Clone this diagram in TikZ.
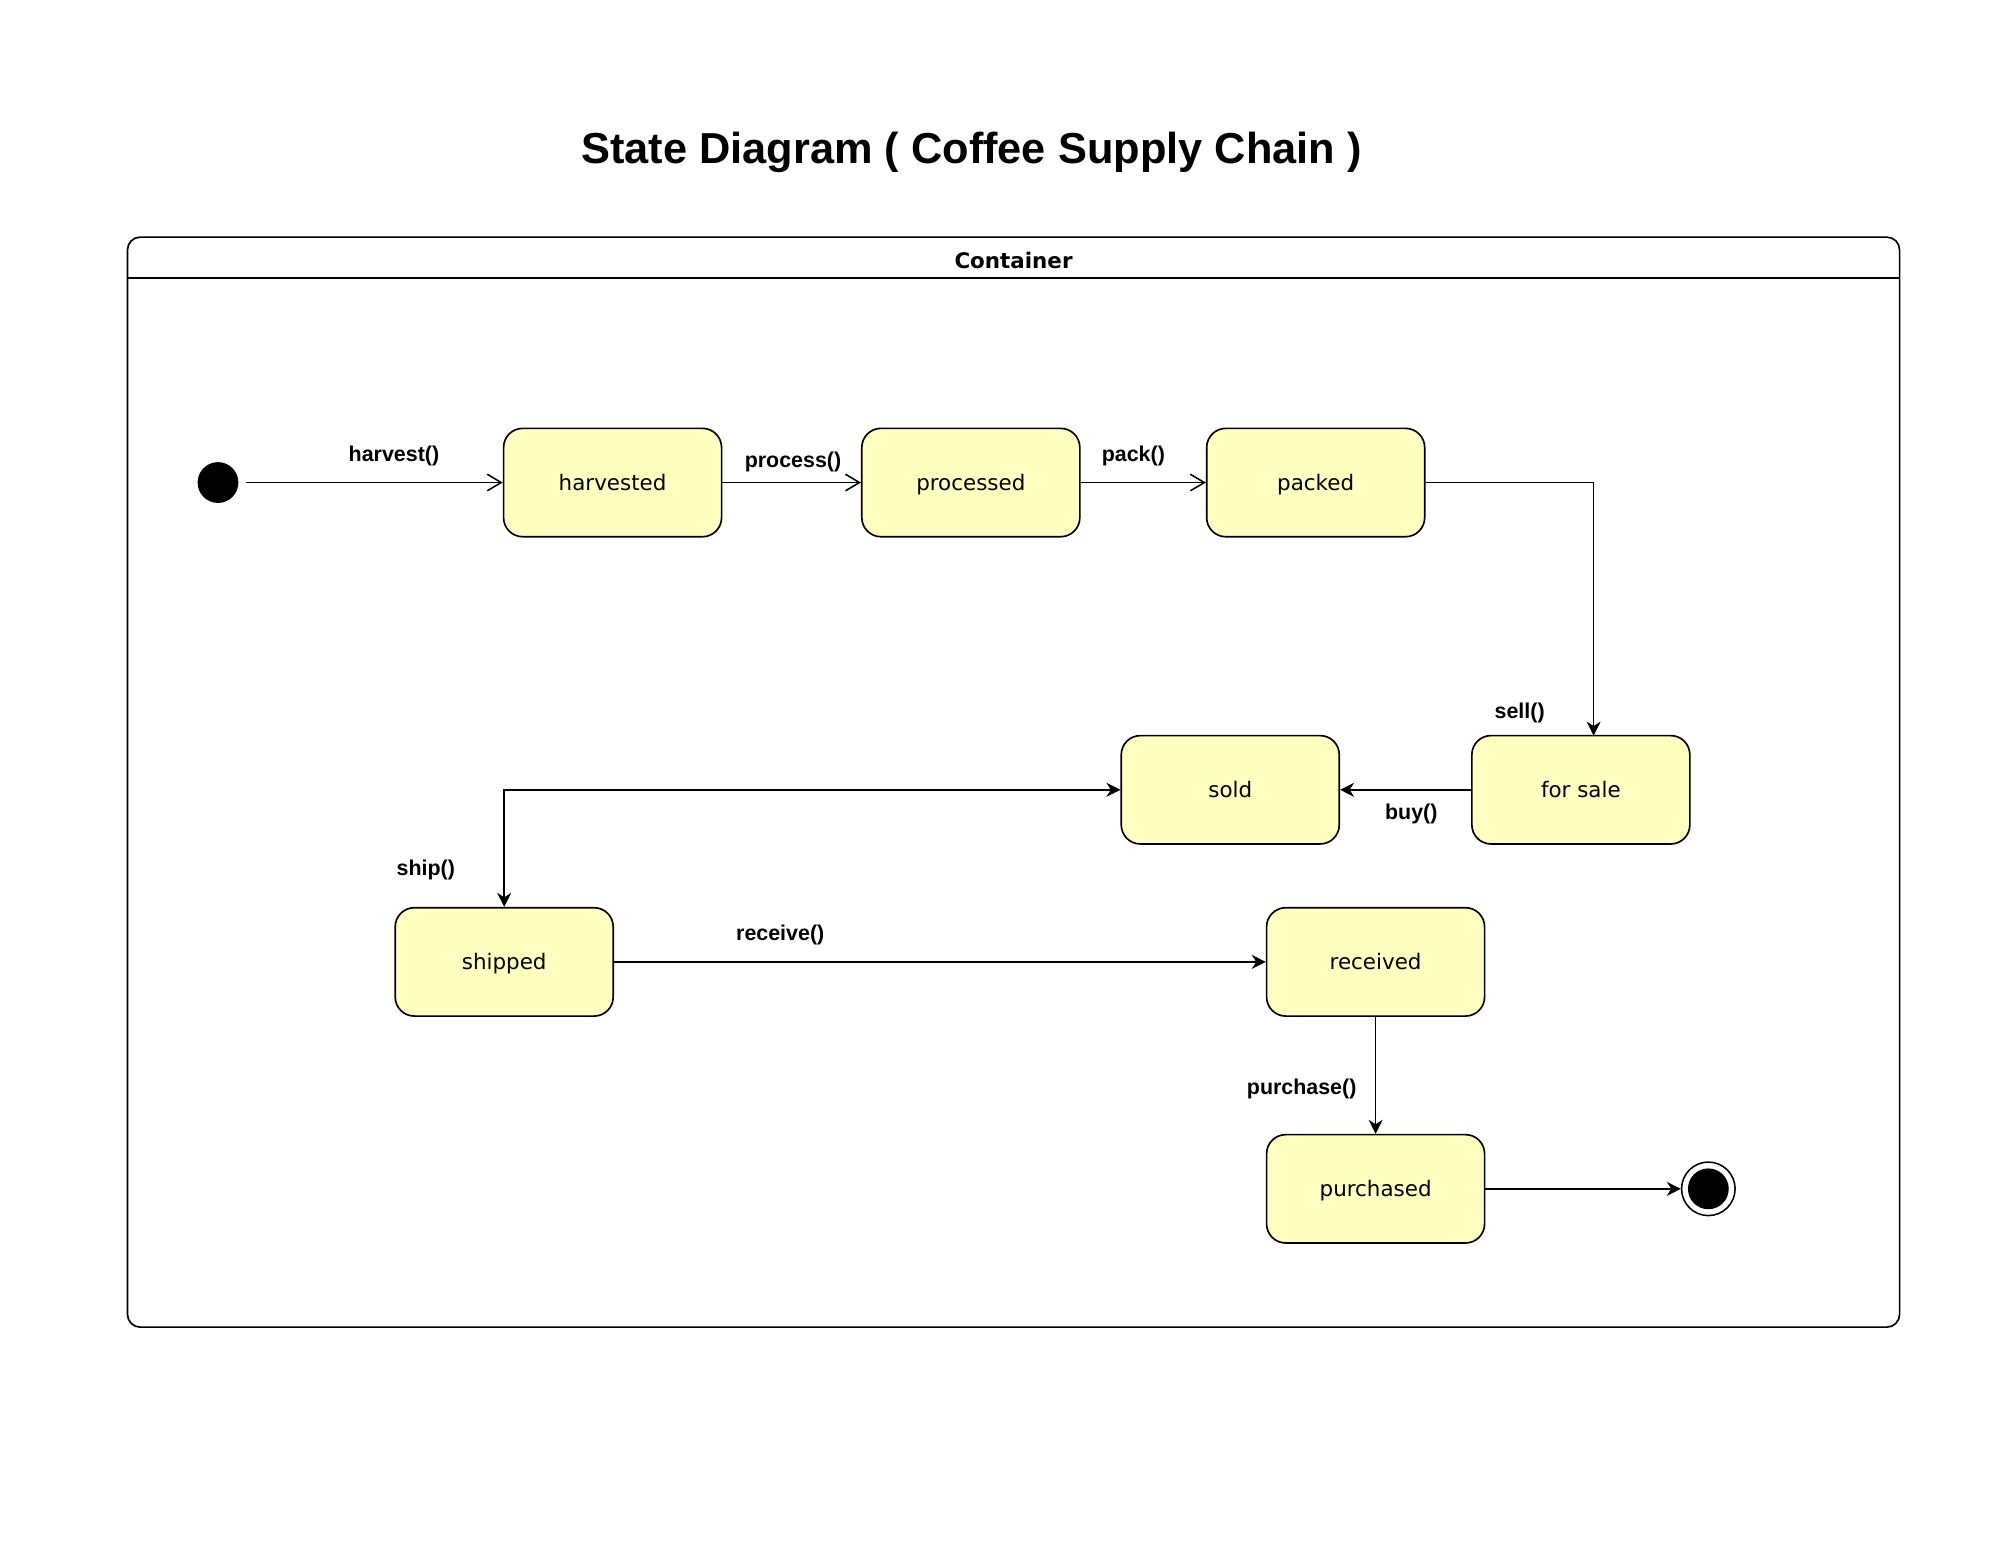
\documentclass[tikz,border=0pt]{standalone}
\usepackage{fontspec}
\setmainfont{DejaVu Sans}
\newfontfamily\arialfont{Liberation Sans}
\usetikzlibrary{arrows.meta}
\definecolor{statefill}{HTML}{FFFFC0}

\begin{document}
\begin{tikzpicture}[x=1pt,y=-1pt,
		>={Stealth[length=11pt,width=11pt,inset=3.5pt]},
		state/.style={draw,line width=1.3pt,fill=statefill,rounded corners=15pt,
			minimum width=171pt,minimum height=85pt,inner sep=0pt,
			text height=16pt,text depth=3.5pt,
			font=\fontsize{16.8}{20}\selectfont},
		trans/.style={line width=1.2pt,->},
		opentrans/.style={line width=1.2pt,-{Straight Barb[length=11pt,width=13pt,line width=1.2pt]}},
		lbl/.style={font=\arialfont\bfseries\fontsize{16.8}{20}\selectfont,inner sep=0pt}]
	\useasboundingbox (0,0) rectangle (1568,1211.9);
	
	% title and container
	\node[font=\arialfont\bfseries\fontsize{34}{40}\selectfont,anchor=base] (title) at (762,128) {State Diagram ( Coffee Supply Chain )};
	\draw[line width=1.3pt,rounded corners=10pt] (100,186) rectangle (1490,1041);
	\coordinate (HL) at (100,218);
	\coordinate (HR) at (1490,218);
	\draw[line width=1.3pt] (HL) -- (HR);
	\node[font=\bfseries\fontsize{16.8}{20}\selectfont] (cont) at (795,204.5) {Container};
	
	% top row
	\node[circle,fill,minimum size=32pt,inner sep=0pt] (init) at (171,378.5) {};
	\node[state] (harvested) at (480.5,378.5) {harvested};
	\node[state] (processed) at (761.5,378.5) {processed};
	\node[state] (packed) at (1032,378.5) {packed};
	
	% middle row
	\node[state] (forsale) at (1240,619.5) {for sale};
	\node[state] (sold) at (965,619.5) {sold};
	
	% bottom rows
	\node[state] (shipped) at (395.5,754.5) {shipped};
	\node[state] (received) at (1079,754.5) {received};
	\node[state] (purchased) at (1079,932.5) {purchased};
	\node[circle,draw,fill=white,line width=1.2pt,minimum size=42pt,inner sep=0pt] (final) at (1340,932.5) {};
	\node[circle,fill,minimum size=32pt,inner sep=0pt] (finaldot) at (final) {};
	
	% transitions
	\draw[opentrans,shorten <=6pt] (init) -- (harvested);
	\draw[opentrans] (harvested) -- (processed);
	\draw[opentrans] (processed) -- (packed);
	\coordinate (sellin) at (1250,577);
	\draw[trans] (packed.east) -- (packed.east -| sellin) -- (sellin);
	\draw[trans] (forsale) -- (sold);
	\draw[trans,<->] (sold.west) -| (shipped.north);
	\draw[trans] (shipped) -- (received);
	\draw[trans] (received) -- (purchased);
	\draw[trans] (purchased) -- (final);
	
	\node[lbl] (lharvest) at (309,357.5) {harvest()};
	\node[lbl] (lprocess) at (622,362.5) {process()};
	\node[lbl] (lpack) at (889,357.5) {pack()};
	\node[lbl] (lsell) at (1192,559.5) {sell()};
	\node[lbl] (lbuy) at (1107,638.5) {buy()};
	\node[lbl] (lship) at (334,682.5) {ship()};
	\node[lbl] (lreceive) at (612,733.5) {receive()};
	\node[lbl] (lpurchase) at (1021,854.5) {purchase()};
\end{tikzpicture}
\end{document}
